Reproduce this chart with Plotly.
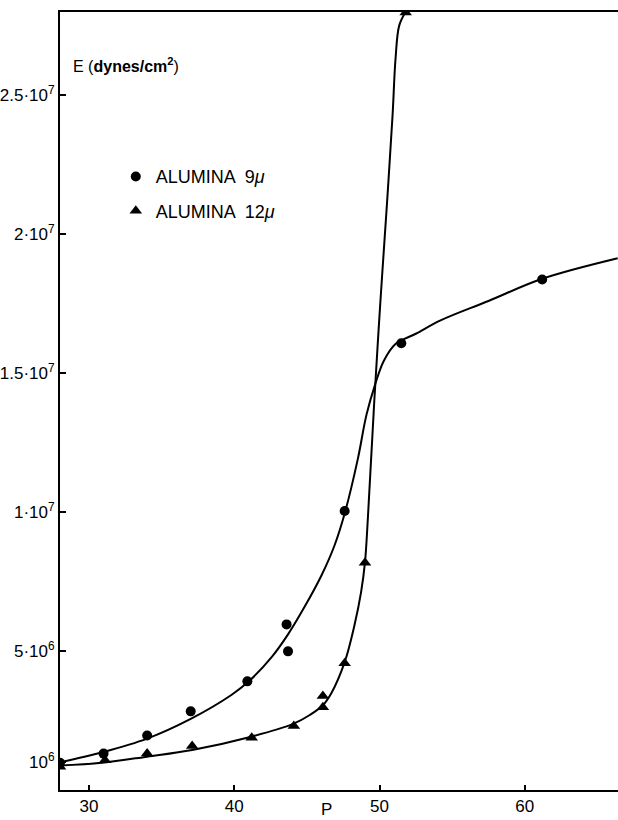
import plotly.graph_objects as go

# Measured points (P, E in dynes/cm^2)
p_9 = [28.0, 31.0, 34.0, 37.0, 40.9, 43.6, 43.7, 47.6, 51.5, 61.2]
e_9 = [0.98e6, 1.31e6, 1.96e6, 2.83e6, 3.91e6, 5.96e6, 4.99e6, 10.04e6, 16.08e6, 18.37e6]

p_12 = [28.0, 31.1, 34.0, 37.1, 41.2, 44.1, 46.1, 46.1, 47.6, 49.0, 51.8]
e_12 = [0.84e6, 1.07e6, 1.31e6, 1.58e6, 1.88e6, 2.30e6, 2.98e6, 3.38e6, 4.56e6, 8.18e6, 27.98e6]

# Hand-drawn fitted curves
curve_p_9 = [28.0, 31.0, 34.0, 37.0, 39.8, 41.0, 42.6, 43.7, 44.85, 46.0, 46.9, 47.6, 48.5, 49.1,
             49.7, 50.3, 51.1, 52.5, 54.2, 57.5, 61.2, 66.4]
curve_e_9 = [1.0e6, 1.37e6, 1.85e6, 2.56e6, 3.42e6, 3.91e6, 4.8e6, 5.6e6, 6.6e6, 7.72e6, 8.8e6,
             9.95e6, 11.9e6, 13.5e6, 14.6e6, 15.45e6, 16.05e6, 16.42e6, 16.9e6, 17.6e6, 18.4e6, 19.14e6]

curve_p_12 = [28.0, 30.9, 34.0, 37.1, 41.1, 44.05, 45.2, 46.1, 46.7, 47.6, 48.27, 48.73, 49.0, 49.2,
              49.64, 50.05, 50.5, 50.9, 51.1, 51.35, 51.77]
curve_e_12 = [0.88e6, 0.98e6, 1.2e6, 1.44e6, 1.91e6, 2.38e6, 2.7e6, 3.05e6, 3.5e6, 4.6e6, 5.92e6,
              7.12e6, 8.2e6, 9.8e6, 14.0e6, 17.5e6, 21.0e6, 24.3e6, 26.3e6, 27.5e6, 27.98e6]

y_tick_vals = [1e6, 5e6, 1e7, 1.5e7, 2e7, 2.5e7]
y_tick_text = ["10<sup>6</sup>", "5·10<sup>6</sup>", "1·10<sup>7</sup>", "1.5·10<sup>7</sup>",
               "2·10<sup>7</sup>", "2.5·10<sup>7</sup>"]
x_tick_vals = [30, 40, 50, 60]

FONT = "Liberation Sans, Arial, sans-serif"

fig = go.Figure()
fig.add_trace(go.Scatter(x=curve_p_9, y=curve_e_9, mode="lines", line=dict(color="black", width=2,
                         shape="spline", smoothing=1.0), showlegend=False, hoverinfo="skip"))
fig.add_trace(go.Scatter(x=curve_p_12, y=curve_e_12, mode="lines", line=dict(color="black", width=2,
                         shape="spline", smoothing=1.0), showlegend=False, hoverinfo="skip"))
fig.add_trace(go.Scatter(x=p_9, y=e_9, mode="markers", name="ALUMINA  9<i>μ</i>", legendgroup="a",
                         marker=dict(symbol="circle", size=10, color="black")))
fig.add_trace(go.Scatter(x=p_12, y=e_12, mode="markers", name="ALUMINA  12<i>μ</i>", legendgroup="b",
                         marker=dict(symbol="triangle-up", size=11, color="black")))

fig.update_layout(
    width=618, height=820,
    margin=dict(l=57, r=0, t=12, b=30),
    paper_bgcolor="white", plot_bgcolor="white",
    font=dict(family=FONT, size=17, color="black"),
    legend=dict(x=0.1, y=0.812, xanchor="left", yanchor="top", bgcolor="rgba(0,0,0,0)",
                font=dict(size=18), tracegroupgap=8, traceorder="grouped"),
    xaxis=dict(range=[28, 66.42], tickvals=x_tick_vals, ticks="inside", ticklen=5, tickwidth=1.5,
               tickcolor="black", showline=True, linecolor="black", linewidth=2, mirror=True,
               showgrid=False, zeroline=False),
    yaxis=dict(range=[0, 2.8e7], tickvals=y_tick_vals, ticktext=y_tick_text, ticks="inside",
               ticklen=6, tickwidth=1.5, tickcolor="black", showline=True, linecolor="black",
               linewidth=2, showgrid=False, zeroline=False),
)

fig.add_annotation(x=28.73, y=26.1e6, xref="x", yref="y", text="E (<b>dynes/cm<sup>2</sup></b>)",
                   showarrow=False, xanchor="left", yanchor="middle", font=dict(size=16))
fig.add_annotation(x=46.33, y=-0.025, xref="x", yref="paper", text="P", showarrow=False,
                   xanchor="center", yanchor="middle", font=dict(size=17))

fig.write_html("out.html")
